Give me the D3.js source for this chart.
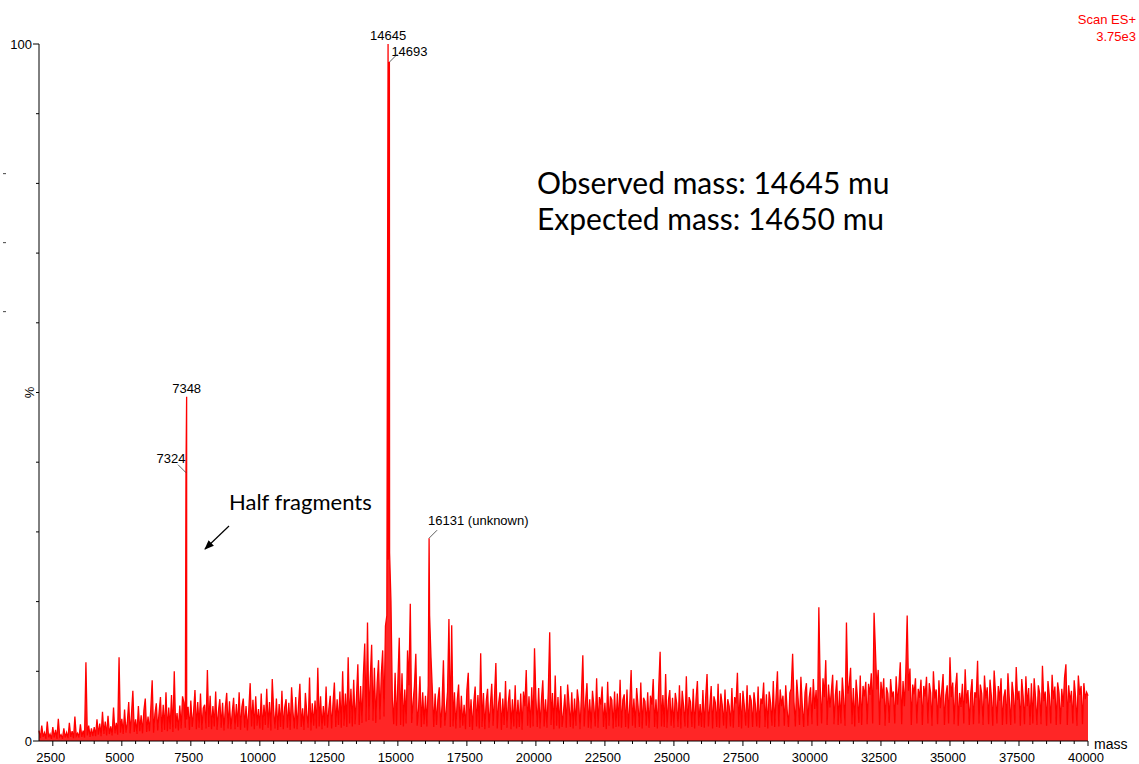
<!DOCTYPE html>
<html>
<head>
<meta charset="utf-8">
<script src="https://cdn.jsdelivr.net/npm/d3@7"></script>
<style>
  body { margin: 0; background: #fff; }
  svg { display: block; }
  .tick-label { font-family: "Liberation Sans", Arial, sans-serif; font-size: 13px; fill: #000; }
  .big-note { font-family: Lato, "Open Sans", sans-serif; fill: #000; }
</style>
</head>
<body>
<svg id="chart" width="1139" height="764"></svg>
<script>
// spectrum intensity (%) sampled every 50 mass units from 2000 to 40000
const massStart = 2000;
const massStep = 50;
const intensity = [
  // 2000
  1.5,0.4,2.2,0.6,1.2,0.3,2.8,0.5,1.0,0.3,2.0,0.5,1.6,0.3,3.2,0.6,0.9,0.3,1.8,0.5,
  // 3000
  1.2,0.4,2.6,0.6,1.4,0.4,3.5,0.7,1.1,0.5,2.4,0.6,1.5,0.5,11.3,0.8,2.2,0.6,1.8,0.7,
  // 4000
  2.0,0.7,3.1,0.9,2.5,0.7,4.2,1.0,2.8,0.8,3.6,1.0,2.1,0.8,4.8,1.1,2.6,0.9,12.0,1.2,
  // 5000
  3.2,1.0,4.5,1.2,2.7,5.6,1.1,3.8,7.2,1.3,3.1,1.0,5.0,1.4,3.7,1.1,4.4,6.1,1.3,3.5,
  // 6000
  1.4,4.6,8.7,1.2,3.9,5.4,1.5,4.1,6.3,1.3,5.2,1.6,7.0,1.4,4.8,1.7,6.6,1.3,10.0,1.8,
  // 7000
  4.0,1.5,5.1,1.8,6.4,5.5,1.9,3.1,4.9,1.6,5.8,2.0,4.2,7.3,1.7,5.6,1.9,6.8,1.6,4.7,
  // 8000
  5.2,1.8,10.2,2.0,6.5,1.7,5.0,2.1,7.1,1.6,4.3,6.0,1.9,5.5,1.5,4.8,6.9,1.8,5.7,1.7,
  // 9000
  4.1,6.2,1.7,5.3,2.0,7.0,1.6,4.9,6.1,1.9,5.0,1.5,4.5,8.3,2.1,5.9,1.7,6.4,2.2,4.6,
  // 10000
  1.8,6.8,1.6,5.2,2.3,7.5,1.9,5.6,1.5,8.9,4.4,1.8,6.1,1.6,5.3,2.0,7.2,1.7,4.8,6.0,
  // 11000
  1.9,5.5,1.6,7.7,4.2,1.8,6.3,1.7,5.1,8.2,2.0,4.7,1.6,6.9,4.0,1.9,9.1,1.5,5.4,2.2,
  // 12000
  5.8,1.8,10.5,2.1,6.4,1.7,5.0,2.2,7.8,1.9,4.6,6.5,1.8,5.3,8.4,2.0,6.0,2.3,7.1,1.9,
  // 13000
  10.0,2.2,6.8,2.0,12.0,2.5,7.5,2.1,8.8,2.4,6.2,11.0,2.3,7.9,2.6,9.4,14.0,2.8,17.0,3.0,
  // 14000
  9.0,13.8,2.9,10.5,2.6,8.3,11.6,3.1,9.6,13.0,3.5,16.5,18.0,26.0,27.0,20.0,6.0,2.4,9.8,2.2,
  // 15000
  8.5,14.8,2.3,9.7,2.1,7.4,2.5,13.0,8.0,19.7,2.6,5.6,7.9,12.5,2.2,4.7,9.3,2.0,7.0,2.4,
  // 16000
  6.5,2.1,8.0,18.0,12.0,7.2,2.0,6.8,2.3,5.9,7.7,1.9,5.2,11.6,2.2,4.5,7.1,17.5,2.0,16.6,
  // 17000
  2.1,7.0,1.8,5.8,8.1,1.9,6.5,2.2,5.2,1.7,7.3,9.8,2.0,6.0,1.6,5.5,7.8,2.1,6.6,1.8,
  // 18000
  12.6,2.0,6.9,1.7,5.7,7.5,1.9,5.1,8.2,2.2,6.3,11.2,1.8,5.4,7.0,1.6,6.1,2.3,8.6,1.9,
  // 19000
  5.5,7.4,1.7,6.0,2.1,8.0,1.8,5.9,2.0,6.8,1.6,7.1,5.0,10.2,2.2,6.4,1.9,7.7,2.1,13.3,
  // 20000
  6.2,2.0,7.6,1.8,5.8,8.7,2.1,6.0,1.9,7.2,15.6,2.3,6.9,1.7,9.4,2.2,6.3,1.8,7.9,2.0,
  // 21000
  4.2,6.7,1.9,8.1,5.3,2.0,7.0,1.8,6.1,2.2,7.4,5.6,1.7,6.6,12.3,2.1,5.7,8.3,1.9,6.0,
  // 22000
  1.8,7.2,5.0,2.1,9.0,1.9,6.3,5.2,7.8,2.0,5.5,1.7,8.5,2.2,6.4,5.9,1.8,7.1,2.0,6.8,
  // 23000
  2.1,8.8,1.9,5.9,6.7,2.0,7.4,1.8,5.3,10.2,2.2,6.1,1.9,7.6,5.1,2.0,8.4,1.8,6.2,5.7,
  // 24000
  2.2,7.0,1.9,6.5,5.2,8.9,2.0,6.0,1.8,7.7,12.8,2.1,6.6,2.0,9.6,1.9,5.8,7.3,2.2,6.2,
  // 25000
  1.9,6.9,5.4,2.0,8.0,1.8,7.2,5.0,2.1,9.3,1.9,6.3,5.6,2.0,7.5,1.8,6.0,8.6,2.2,5.3,
  // 26000
  2.0,7.3,1.9,6.2,9.6,2.1,5.0,7.9,1.8,6.4,5.5,2.0,8.2,1.9,6.8,5.2,2.2,7.4,1.8,6.0,
  // 27000
  5.0,2.1,7.6,1.9,6.3,5.4,9.8,2.0,6.9,1.8,7.2,5.1,2.2,8.0,1.9,6.6,5.8,2.0,7.0,5.2,
  // 28000
  2.1,7.8,1.9,6.1,5.3,8.4,2.0,6.7,1.8,7.1,5.5,2.2,8.6,2.0,6.3,10.0,2.1,7.4,5.0,6.5,
  // 29000
  2.2,8.0,4.5,2.0,6.9,7.5,12.5,5.6,2.1,8.8,6.0,2.3,9.2,5.1,2.0,7.0,8.3,2.2,6.2,7.7,
  // 30000
  2.4,8.9,4.6,7.3,2.2,19.2,7.8,2.5,9.0,6.3,11.6,2.3,8.1,4.8,7.0,9.5,2.4,6.6,8.7,2.3,
  // 31000
  7.2,2.5,9.1,6.0,2.2,17.0,6.8,8.0,10.5,2.4,7.6,2.1,8.8,6.2,2.6,9.4,2.3,7.9,6.4,8.5,
  // 32000
  2.4,8.2,6.6,9.7,2.5,18.4,13.0,7.4,10.2,2.3,8.5,6.1,9.0,2.2,7.7,6.8,2.6,8.9,6.3,7.1,
  // 33000
  2.5,9.3,5.2,7.8,11.3,2.4,8.6,5.0,9.9,18.0,7.2,10.4,2.3,8.1,6.7,9.0,2.5,7.5,6.2,8.8,
  // 34000
  2.3,7.9,6.4,9.2,2.5,8.3,6.9,2.2,10.0,6.1,7.4,2.4,8.7,4.7,7.1,9.6,2.3,6.6,8.0,2.5,
  // 35000
  12.0,6.3,8.4,2.4,7.6,9.8,2.2,6.9,4.9,8.2,2.5,10.3,5.4,7.3,2.3,6.8,8.9,2.4,7.0,6.2,
  // 36000
  11.5,2.5,8.1,6.8,2.3,9.4,6.1,7.7,2.4,8.8,6.4,2.2,10.1,6.9,2.5,7.9,5.8,9.0,2.3,6.3,
  // 37000
  7.4,2.4,9.7,6.0,2.3,8.5,6.6,2.5,10.6,5.9,7.2,2.2,8.9,6.4,2.4,9.3,5.0,7.6,2.3,8.3,
  // 38000
  2.5,9.0,6.2,2.3,8.0,6.8,2.4,10.8,5.7,7.1,2.2,8.6,6.5,2.5,9.5,6.0,7.8,2.3,8.4,6.9,
  // 39000
  2.4,7.5,4.9,9.1,11.0,2.3,8.0,5.5,7.2,2.5,8.7,6.3,2.2,9.4,6.6,7.9,2.4,8.3,6.0,7.0,
  // 40000
  6.5
];

// labelled peaks
const peakMass = [7324, 7348, 14645, 14693, 16131];
const peakIntensity = [38.5, 49.4, 100, 97.4, 29.1];
const peakLabel = ["7324", "7348", "14645", "14693", "16131 (unknown)"];

const xTicks = [2500, 5000, 7500, 10000, 12500, 15000, 17500, 20000, 22500, 25000,
                27500, 30000, 32500, 35000, 37500, 40000];

const svg = d3.select("#chart");
const red = "#ff0000";

const x = d3.scaleLinear().domain([2000, 40000]).range([39, 1088]);
const y = d3.scaleLinear().domain([0, 100]).range([741, 44]);

// merge the sampled trace with the peak tops
const points = intensity.map((v, i) => ({m: massStart + i * massStep, v: v}));
peakMass.forEach((m, i) => points.push({m: m, v: peakIntensity[i]}));
points.sort((a, b) => a.m - b.m);

const area = d3.area()
  .x(d => x(d.m))
  .y0(y(0))
  .y1(d => y(d.v));

const line = d3.line()
  .x(d => x(d.m))
  .y(d => y(d.v));

svg.append("path")
  .datum(points)
  .attr("fill", red)
  .attr("fill-opacity", 0.85)
  .attr("d", area);

svg.append("path")
  .datum(points)
  .attr("fill", "none")
  .attr("stroke", red)
  .attr("stroke-width", 1.3)
  .attr("d", line);

///////////////////////
/// AXES
///////////////////////

// x axis: minor ticks every 500, major every 2500
const xAxisG = svg.append("g").attr("transform", `translate(0,${y(0)})`);
xAxisG.append("line")
  .attr("x1", x(2000)).attr("x2", x(40000))
  .attr("stroke", "#000").attr("stroke-width", 1);
xAxisG.selectAll("line.minor")
  .data(d3.range(2500, 40001, 500))
  .enter()
  .append("line")
  .attr("class", "minor")
  .attr("x1", d => x(d)).attr("x2", d => x(d))
  .attr("y1", 0)
  .attr("y2", d => d % 2500 === 0 ? 5 : 3)
  .attr("stroke", "#000").attr("stroke-width", 1);
xAxisG.selectAll("text")
  .data(xTicks)
  .enter()
  .append("text")
  .attr("class", "tick-label")
  .attr("x", d => x(d) - 2)
  .attr("y", 21)
  .attr("text-anchor", "middle")
  .text(d => d);
svg.append("text")
  .attr("class", "tick-label")
  .attr("x", x(40000) + 6)
  .attr("y", y(0) + 8)
  .style("font-size", "14px")
  .text("mass");

// y axis
const yAxisG = svg.append("g");
yAxisG.append("line")
  .attr("x1", x(2000)).attr("x2", x(2000))
  .attr("y1", y(0)).attr("y2", y(100))
  .attr("stroke", "#000");
yAxisG.selectAll("line.tick")
  .data(d3.range(0, 101, 10))
  .enter()
  .append("line")
  .attr("class", "tick")
  .attr("x1", d => x(2000) - (d === 0 || d === 100 ? 6 : 3))
  .attr("x2", x(2000))
  .attr("y1", d => y(d)).attr("y2", d => y(d))
  .attr("stroke", "#000");
yAxisG.selectAll("text")
  .data([0, 100])
  .enter()
  .append("text")
  .attr("class", "tick-label")
  .attr("x", x(2000) - 7)
  .attr("y", d => y(d) + 5)
  .attr("text-anchor", "end")
  .text(d => d);
// stray dashes at the left edge
yAxisG.selectAll("line.stray")
  .data([81.4, 71.5, 61.6])
  .enter()
  .append("line")
  .attr("class", "stray")
  .attr("x1", 3).attr("x2", 6)
  .attr("y1", d => y(d)).attr("y2", d => y(d))
  .attr("stroke", "#444");
svg.append("text")
  .attr("class", "tick-label")
  .attr("transform", `translate(${x(2000) - 5},${y(50)}) rotate(-90)`)
  .attr("text-anchor", "middle")
  .text("%");

///////////////////////
/// ANNOTATIONS
///////////////////////

svg.append("text").attr("class", "tick-label")
  .attr("x", 1136).attr("y", 24).attr("text-anchor", "end")
  .style("fill", red).text("Scan ES+");
svg.append("text").attr("class", "tick-label")
  .attr("x", 1136).attr("y", 41).attr("text-anchor", "end")
  .style("fill", red).text("3.75e3");

// peak labels: offset of text from peak top, and whether a leader is drawn
const labelPlace = [
  {dx: -15, dy: -10, anchor: "middle", leader: true},
  {dx: 0, dy: -4, anchor: "middle", leader: false},
  {dx: 0, dy: -4, anchor: "middle", leader: false},
  {dx: 2, dy: -6, anchor: "start", leader: true},
  {dx: -1, dy: -13, anchor: "start", leader: true}
];
peakMass.forEach((m, i) => {
  const p = labelPlace[i];
  const px = x(m), py = y(peakIntensity[i]);
  svg.append("text")
    .attr("class", "tick-label")
    .attr("x", px + p.dx)
    .attr("y", py + p.dy)
    .attr("text-anchor", p.anchor)
    .text(peakLabel[i]);
  if (p.leader) {
    const lx = p.anchor === "middle" ? px - 8 : px + 8;
    svg.append("line")
      .attr("x1", px).attr("y1", py)
      .attr("x2", lx).attr("y2", py - 8)
      .attr("stroke", "#333").attr("stroke-width", 0.8);
  }
});

svg.append("text").attr("class", "big-note")
  .attr("x", 537).attr("y", 194).style("font-size", "30px")
  .text("Observed mass: 14645 mu");
svg.append("text").attr("class", "big-note")
  .attr("x", 537).attr("y", 230).style("font-size", "30px")
  .text("Expected mass: 14650 mu");

svg.append("text").attr("class", "big-note")
  .attr("x", 229).attr("y", 510).style("font-size", "22px")
  .text("Half fragments");

svg.append("defs").append("marker")
  .attr("id", "arrow")
  .attr("viewBox", "0 0 10 10")
  .attr("refX", 9).attr("refY", 5)
  .attr("markerWidth", 8).attr("markerHeight", 8)
  .attr("orient", "auto")
  .append("path")
  .attr("d", "M0,1 L10,5 L0,9 Z")
  .attr("fill", "#000");
svg.append("line")
  .attr("x1", 229).attr("y1", 526)
  .attr("x2", 205).attr("y2", 549)
  .attr("stroke", "#000").attr("stroke-width", 1.2)
  .attr("marker-end", "url(#arrow)");
</script>
</body>
</html>
